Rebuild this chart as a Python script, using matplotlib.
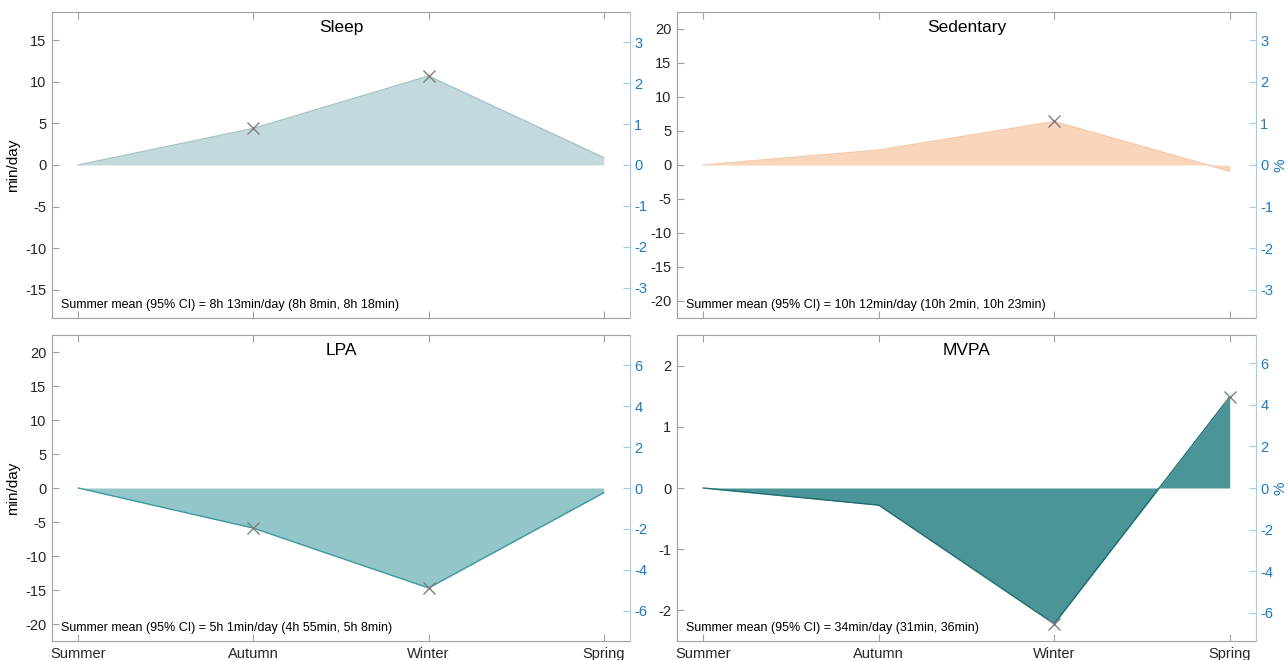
import matplotlib.pyplot as plt
import numpy as np

plt.rcParams['font.family'] = ['Liberation Sans', 'DejaVu Sans']
plt.rcParams['axes.unicode_minus'] = False

seasons = ["Summer", "Autumn", "Winter", "Spring"]
titles = ["Sleep", "Sedentary", "LPA", "MVPA"]

# difference from summer (min/day)
sleep = [0, 4.4, 10.7, 0.9]
sedentary = [0, 2.2, 6.4, -0.9]
lpa = [0, -5.9, -14.7, -0.7]
mvpa = [0, -0.28, -2.22, 1.49]

# significant points (marked with x)
sleep_sig = [False, True, True, False]
sedentary_sig = [False, False, True, False]
lpa_sig = [False, True, True, False]
mvpa_sig = [False, False, True, True]

summer_mean = [493, 612, 301, 34]  # min/day
mean_text = ["8h 13min/day (8h 8min, 8h 18min)",
             "10h 12min/day (10h 2min, 10h 23min)",
             "5h 1min/day (4h 55min, 5h 8min)",
             "34min/day (31min, 36min)"]

ylims = [18.4, 22.5, 22.5, 2.5]
yticks = [np.arange(-15, 16, 5), np.arange(-20, 21, 5), np.arange(-20, 21, 5), np.arange(-2, 3, 1)]
pticks = [np.arange(-3, 4, 1), np.arange(-3, 4, 1), np.arange(-6, 7, 2), np.arange(-6, 7, 2)]

fills = ['#c3d9db', '#f8d5bb', '#93c6c9', '#4b9497']
edges = ['#a6c4c7', '#f5cbab', '#3d9aa0', '#1f6f73']

values = [sleep, sedentary, lpa, mvpa]
sigs = [sleep_sig, sedentary_sig, lpa_sig, mvpa_sig]

W, H = 1287, 660
boxes = [(52, 12, 630, 318), (677, 12, 1256, 318),
         (52, 335, 630, 641), (677, 335, 1256, 641)]

blue = '#1a7ac4'
blue_light = '#9fcbea'
gray = '#a0a0a0'

fig = plt.figure(figsize=(12.87, 6.6), dpi=100)
x = np.arange(len(seasons))

for i in range(4):
    l, t, r, b = boxes[i]
    ax = fig.add_axes([l / W, 1 - b / H, (r - l) / W, (b - t) / H])
    v = np.array(values[i], dtype=float)
    ax.fill_between(x, v, 0, color=fills[i], lw=0)
    ax.plot(x, v, color=edges[i], lw=1)
    s = np.array(sigs[i])
    ax.plot(x[s], v[s], 'x', color='#7f7f7f', ms=9, mew=1)

    ax.set_xlim(-0.15, 3.15)
    ax.set_ylim(-ylims[i], ylims[i])
    ax.set_yticks(yticks[i])
    ax.set_xticks(x)
    if i >= 2:
        ax.set_xticklabels(seasons)
    else:
        ax.set_xticklabels([])
    ax.tick_params(direction='in', length=5, color=gray, labelsize=10.5,
                   labelcolor='#262626', top=True, right=False, pad=4)
    for side in ['left', 'top', 'bottom']:
        ax.spines[side].set_color(gray)
    ax.spines['right'].set_visible(False)

    ax.text(0.5, 0.975, titles[i], transform=ax.transAxes, ha='center', va='top', fontsize=12.5)
    ax.text(0.015, 0.022, "Summer mean (95% CI) = " + mean_text[i], transform=ax.transAxes,
            ha='left', va='bottom', fontsize=9)
    if i % 2 == 0:
        ax.set_ylabel("min/day", fontsize=11, labelpad=4)

    ax2 = ax.twinx()
    lim = ylims[i] / summer_mean[i] * 100
    ax2.set_ylim(-lim, lim)
    ax2.set_yticks(pticks[i])
    ax2.tick_params(direction='in', length=5, color=blue_light, labelcolor=blue, labelsize=10.5, pad=3)
    for side in ['left', 'top', 'bottom']:
        ax2.spines[side].set_visible(False)
    ax2.spines['right'].set_color(blue_light)
    if i % 2 == 1:
        ax2.set_ylabel("%", color=blue, fontsize=11, labelpad=0.5)

fig.savefig("out.png", dpi=100)
